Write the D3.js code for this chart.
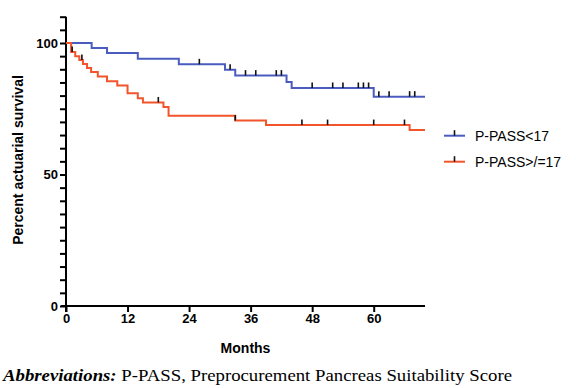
<!DOCTYPE html>
<html>
<head>
<meta charset="utf-8">
<script src="https://cdn.jsdelivr.net/npm/d3@7"></script>
<style>
  body { margin: 0; background: #fff; }
  svg { display: block; }
  .axis text { font-family: 'Liberation Sans', Arial, sans-serif; font-weight: bold; font-size: 13px; fill: #000; }
  .axis path, .axis line { stroke: #000; stroke-width: 2px; }
</style>
</head>
<body>
<svg id="canvas" width="576" height="388"></svg>
<script>
// survival steps: [month, percent after the drop]
let blueSteps = [[0, 100], [5, 98.1], [8, 96.2], [14, 94.0], [22, 91.9], [31, 89.8], [33, 87.6], [43, 85.2], [44, 82.9], [60, 79.6]]
let blueCensored = [26, 32, 35, 37, 41, 42, 48, 52, 54, 57, 58, 59, 61, 63, 67, 68]
let redSteps = [[0, 100], [1, 96.6], [1.8, 95.0], [2.6, 93.5], [3.3, 92.0], [4.1, 90.5], [4.9, 89.0], [6.2, 87.3], [8, 85.5], [10, 83.8], [12, 80.9], [14, 79.0], [15, 77.4], [19, 75.7], [20, 72.3], [33, 70.5], [39, 68.8], [67, 66.9]]
let redCensored = [1.2, 3.1, 18, 33, 46, 51, 60, 66]
let groups = ['P-PASS<17', 'P-PASS>/=17']
let colors = ['#4b5cc0', '#f2542b']
let xTicks = [0, 12, 24, 36, 48, 60]
let yTicks = d3.range(0, 111, 5)
let yLabels = [0, 50, 100]
let lastMonth = 70

let canvas = d3.select('#canvas')

let x = d3.scaleLinear().domain([0, 70]).range([66, 425])
let y = d3.scaleLinear().domain([0, 110]).range([306, 16.7])

// value of a step curve at a given month
let survivalAt = (steps, t) => {
  let v = steps[0][1]
  steps.forEach((s) => {
    if (s[0] <= t) v = s[1]
  })
  return v
}

let series = [
  { name: groups[0], steps: blueSteps, censored: blueCensored, color: colors[0] },
  { name: groups[1], steps: redSteps, censored: redCensored, color: colors[1] }
]

let stepLine = d3.line()
  .x((d) => x(d[0]))
  .y((d) => y(d[1]))
  .curve(d3.curveStepAfter)

// axes
canvas.append('g')
  .attr('class', 'axis')
  .attr('transform', 'translate(0,' + y(0) + ')')
  .call(d3.axisBottom(x).tickValues(xTicks).tickSize(6).tickPadding(2).tickSizeOuter(0))
  .call((g) => g.select('.domain').attr('d', 'M' + (x(0) - 5) + ',0H' + x(70)))

canvas.append('g')
  .attr('class', 'axis')
  .attr('transform', 'translate(' + x(0) + ',0)')
  .call(d3.axisLeft(y).tickValues(yTicks).tickSize(6).tickPadding(2).tickSizeOuter(0)
    .tickFormat((d) => yLabels.includes(d) ? d : ''))
  .call((g) => g.select('.domain').attr('d', 'M0,' + (y(0) + 6) + 'V' + y(110)))

// curves
series.forEach((s) => {
  let pts = s.steps.concat([[lastMonth, s.steps[s.steps.length - 1][1]]])
  canvas.append('path')
    .attr('d', stepLine(pts))
    .attr('fill', 'none')
    .attr('stroke', s.color)
    .attr('stroke-width', 2)

  canvas.selectAll(null)
    .data(s.censored)
    .enter()
    .append('line')
    .attr('x1', (d) => x(d))
    .attr('x2', (d) => x(d))
    .attr('y1', (d) => y(survivalAt(s.steps, d)))
    .attr('y2', (d) => y(survivalAt(s.steps, d)) - 5.5)
    .attr('stroke', '#111')
    .attr('stroke-width', 1.6)
})

// legend
let legend = canvas.selectAll('.legend')
  .data(series)
  .enter()
  .append('g')
  .attr('class', 'legend')
  .attr('transform', (d, i) => 'translate(444,' + (135.7 + i * 26) + ')')

legend.append('line')
  .attr('x1', 0).attr('x2', 21)
  .attr('stroke', (d) => d.color)
  .attr('stroke-width', 2)
legend.append('line')
  .attr('x1', 10.5).attr('x2', 10.5)
  .attr('y1', 0).attr('y2', -5.5)
  .attr('stroke', '#111')
  .attr('stroke-width', 1.6)
legend.append('text')
  .attr('x', 31)
  .attr('y', 5)
  .style('font-family', "'Liberation Sans', Arial, sans-serif")
  .style('font-size', '14px')
  .text((d) => d.name)

// axis titles
canvas.append('text')
  .attr('x', (x(0) + x(70)) / 2 - 0)
  .attr('y', 353)
  .attr('text-anchor', 'middle')
  .style('font-family', "'Liberation Sans', Arial, sans-serif")
  .style('font-weight', 'bold')
  .style('font-size', '14px')
  .text('Months')

canvas.append('text')
  .attr('transform', 'translate(23,160) rotate(-90)')
  .attr('text-anchor', 'middle')
  .style('font-family', "'Liberation Sans', Arial, sans-serif")
  .style('font-weight', 'bold')
  .style('font-size', '14px')
  .text('Percent actuarial survival')

// caption under the figure
let caption = canvas.append('text')
  .attr('x', 3)
  .attr('y', 381)
  .attr('textLength', 509)
  .attr('lengthAdjust', 'spacingAndGlyphs')
  .style('font-family', "'Liberation Serif', 'Times New Roman', serif")
  .style('font-size', '17px')
caption.append('tspan')
  .style('font-style', 'italic')
  .style('font-weight', 'bold')
  .text('Abbreviations:')
caption.append('tspan')
  .text(' P-PASS, Preprocurement Pancreas Suitability Score')
</script>
</body>
</html>
